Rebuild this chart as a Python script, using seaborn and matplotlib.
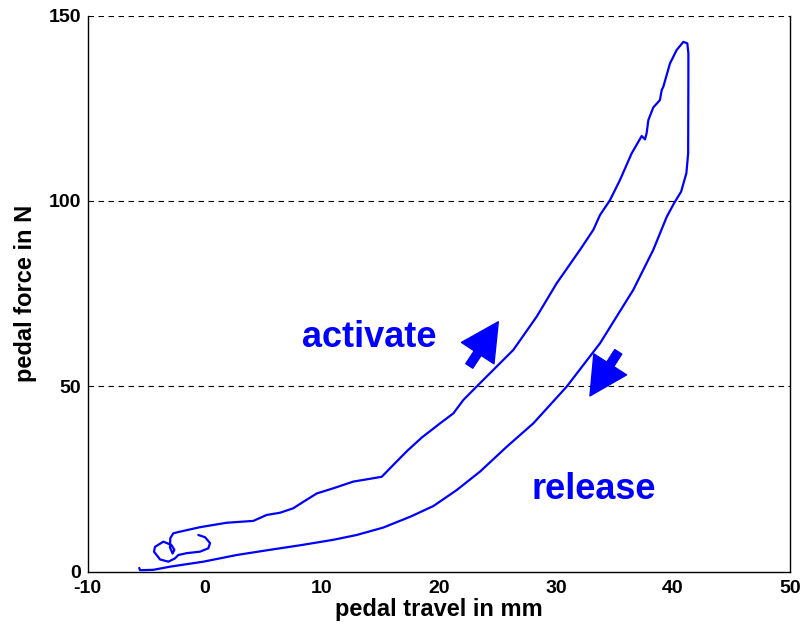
import matplotlib
matplotlib.use("Agg")
import matplotlib.pyplot as plt
from matplotlib.patches import FancyArrowPatch
import seaborn as sns
import pandas as pd

# Pedal stroke: pressing (activate) then letting go (release)
travel_activate = [-0.55, 0.02, 0.45, 0.30, -0.41, -1.54, -2.26, -2.54, -3.11, -3.82,
                   -4.34, -4.25, -3.54, -2.85, -2.60, -2.75, -2.97, -2.95, -2.69, -2.11,
                   -0.41, 0.73, 1.87, 4.15, 5.29, 6.43, 7.56, 8.40, 9.57, 10.99,
                   12.69, 13.83, 15.12, 16.11, 17.30, 18.55, 20.10, 21.24, 22.09, 23.25,
                   26.36, 28.36, 30.07, 32.06, 33.20, 33.77, 34.62, 35.47, 36.47, 37.33,
                   37.61, 37.75, 37.90, 38.32, 38.89, 39.04, 39.18, 39.75, 40.32, 40.89,
                   41.23]
force_activate = [9.9, 9.3, 7.7, 6.3, 5.4, 5.0, 4.5, 3.6, 2.7, 3.3,
                  5.4, 6.7, 8.1, 7.2, 5.9, 4.9, 6.5, 9.0, 10.35, 10.8,
                  12.0, 12.6, 13.2, 13.7, 15.3, 15.9, 17.1, 18.8, 21.1, 22.5,
                  24.3, 24.9, 25.6, 28.8, 32.6, 36.2, 40.0, 42.7, 46.3, 50.0,
                  59.8, 68.8, 77.8, 86.8, 92.2, 96.2, 100.2, 105.6, 112.8, 117.5,
                  116.6, 118.2, 121.8, 125.2, 127.2, 129.9, 130.8, 137.1, 140.7, 142.9,
                  142.5]

travel_release = [41.23, 41.32, 41.32, 41.30, 41.15, 40.70, 40.10, 39.47, 38.32, 36.61,
                  33.77, 30.92, 28.07, 25.80, 23.52, 21.52, 19.53, 17.54, 15.25, 12.98,
                  10.98, 8.30, 5.57, 2.73, -0.12, -2.97, -4.40, -5.53, -5.60]
force_release = [142.5, 139.8, 133.5, 112.8, 107.5, 102.5, 99.4, 95.7, 86.8, 76.0,
                 61.6, 49.9, 40.0, 33.7, 27.0, 22.0, 17.7, 14.8, 11.9, 9.9,
                 8.6, 7.2, 5.9, 4.5, 2.7, 1.35, 0.5, 0.4, 1.0]

x_ticks = [-10, 0, 10, 20, 30, 40, 50]
y_ticks = [0, 50, 100, 150]

sns.set_style("white")
plt.rcParams["font.family"] = ["Liberation Sans", "DejaVu Sans"]
plt.rcParams["font.weight"] = "bold"
plt.rcParams["axes.unicode_minus"] = False
plt.rcParams["text.color"] = "black"
plt.rcParams["axes.labelcolor"] = "black"

fig = plt.figure(figsize=(8.02, 6.31), dpi=100)
ax = fig.add_axes([0.1094, 0.094, 0.8756, 0.8814])

stroke = pd.DataFrame({
    "travel": travel_activate + travel_release,
    "force": force_activate + force_release,
})
sns.lineplot(data=stroke, x="travel", y="force", sort=False, estimator=None,
             color="#0000ff", linewidth=1.6, ax=ax)

ax.set_xlim(-10, 50)
ax.set_ylim(0, 150)
ax.set_xticks(x_ticks)
ax.set_yticks(y_ticks)
ax.tick_params(direction="in", length=5, width=0.8, labelsize=14,
               top=False, right=False, colors="black")
ax.tick_params(axis="x", pad=6)
ax.tick_params(axis="y", pad=5)
for lab in ax.get_xticklabels() + ax.get_yticklabels():
    lab.set_fontweight("bold")
    lab.set_color("black")

for y in y_ticks[1:]:
    ax.axhline(y, color="black", linestyle=(0, (5, 4)), linewidth=0.8, zorder=0)

for side in ["left", "bottom", "right"]:
    ax.spines[side].set_color("black")
    ax.spines[side].set_linewidth(1.0)
ax.spines["top"].set_visible(False)

ax.set_xlabel("pedal travel in mm", fontsize=17, fontweight="bold", labelpad=1,
              color="black")
ax.set_ylabel("pedal force in N", fontsize=17, fontweight="bold", labelpad=8,
              color="black")

ax.text(14.03, 60.7, "activate", color="#0000ff", fontsize=26, fontweight="bold",
        ha="center", va="baseline")
ax.text(33.25, 19.6, "release", color="#0000ff", fontsize=26, fontweight="bold",
        ha="center", va="baseline")

arrow_style = "simple,head_length=27,head_width=28,tail_width=6"
for tail, tip in [((22.6, 55.5), (25.08, 67.4)), ((35.33, 59.3), (32.91, 47.4))]:
    ax.add_patch(FancyArrowPatch(tail, tip, arrowstyle=arrow_style, mutation_scale=1,
                                 color="#0000ff", shrinkA=0, shrinkB=0, zorder=3))

fig.savefig("out.png", dpi=100)
